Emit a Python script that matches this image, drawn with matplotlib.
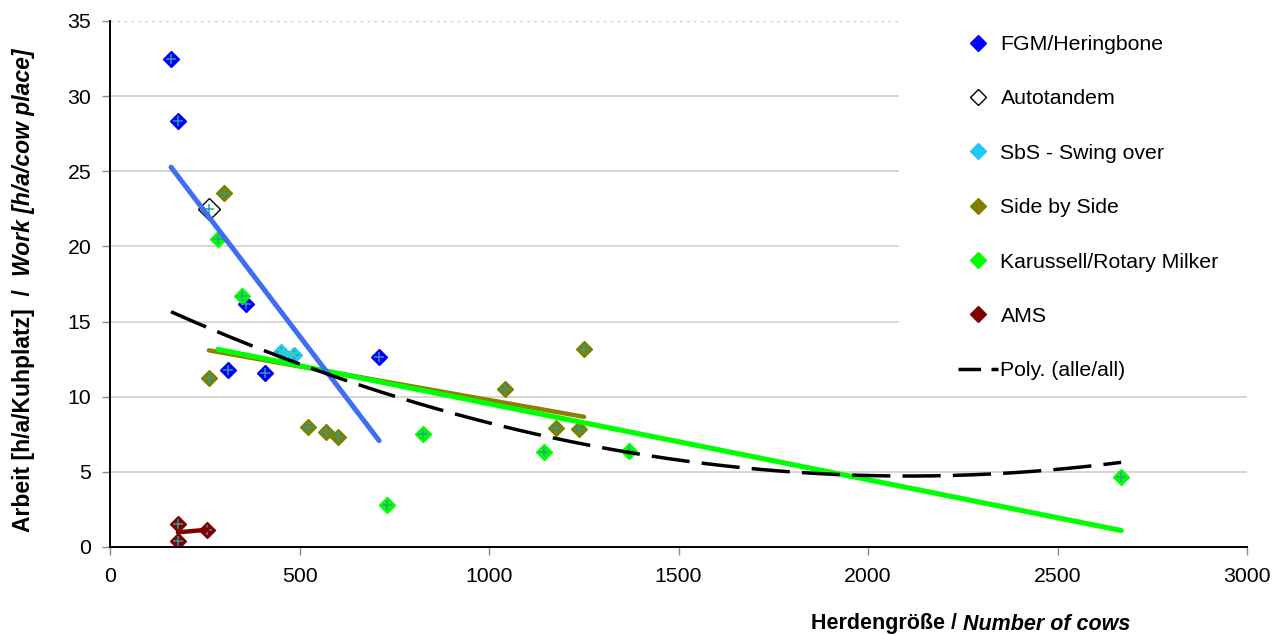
import numpy as np
import matplotlib
matplotlib.use("Agg")
import matplotlib.pyplot as plt
from matplotlib.lines import Line2D
from matplotlib.patches import Rectangle

plt.rcParams['font.family'] = ['Liberation Sans', 'DejaVu Sans']

# ---- data (herd size, work h/a/cow place) ----
fgm_x = [161, 179, 359, 311, 409, 710]
fgm_y = [32.5, 28.35, 16.2, 11.8, 11.6, 12.65]

auto_x = [261]
auto_y = [22.5]

sbs_swing_x = [451, 485]
sbs_swing_y = [13.0, 12.8]

side_x = [301, 261, 522, 570, 601, 1042, 1177, 1237, 1251]
side_y = [23.55, 11.25, 8.0, 7.65, 7.3, 10.5, 7.9, 7.85, 13.15]

rot_x = [285, 348, 731, 826, 1145, 1369, 2668]
rot_y = [20.5, 16.7, 2.8, 7.5, 6.3, 6.4, 4.65]

ams_x = [179, 179, 256]
ams_y = [1.55, 0.4, 1.15]

legend_labels = ["FGM/Heringbone", "Autotandem", "SbS - Swing over",
                 "Side by Side", "Karussell/Rotary Milker", "AMS",
                 "Poly. (alle/all)"]
xticks = [0, 500, 1000, 1500, 2000, 2500, 3000]
yticks = [0, 5, 10, 15, 20, 25, 30, 35]

W, H = 1288, 635
fig = plt.figure(figsize=(W / 100, H / 100), dpi=100)
ax = fig.add_axes([110 / W, 88 / H, 1137 / W, 526 / H])
ax.set_xlim(0, 3000)
ax.set_ylim(0, 35)
ax.set_xticks(xticks)
ax.set_yticks(yticks)
ax.tick_params(axis='both', labelsize=15.3, color='#8c8c8c', length=5.5, width=1)
ax.tick_params(axis='x', pad=9)
ax.tick_params(axis='y', pad=8)
for s in ['top', 'right']:
    ax.spines[s].set_visible(False)
for s in ['left', 'bottom']:
    ax.spines[s].set_linewidth(1.4)
    ax.spines[s].set_color('black')
    ax.spines[s].set_zorder(6)

# gridlines
for v in yticks[1:]:
    if v == yticks[-1]:
        ax.axhline(v, color='#cfcfcf', lw=1, ls=(0, (2, 3)), zorder=0.5)
    else:
        ax.axhline(v, color='#cfcfcf', lw=1.2, zorder=0.5)

# white legend area covering gridlines
ax.add_patch(Rectangle((899 / W, 1 - 386 / H), (1248 - 899) / W, 380 / H,
                       transform=fig.transFigure, facecolor='white',
                       edgecolor='none', zorder=0.8, clip_on=False))

plus_c = '#2f9c9c'
ms = 7.8

def series(x, y, face, edge, size=ms):
    ax.plot(x, y, ls='none', marker='D', ms=size, mfc=face, mec=edge, mew=1, zorder=3)
    ax.plot(x, y, ls='none', marker='+', ms=6.5, mec=plus_c, mew=1.1, zorder=3.1)

series(fgm_x, fgm_y, '#0000ff', '#0000ff')
series(auto_x, auto_y, 'white', 'black', size=11)
series(sbs_swing_x, sbs_swing_y, '#1fc8f0', '#1fc8f0')
series(side_x, side_y, '#808000', '#808000')
series(rot_x, rot_y, '#00ff00', '#00ff00')
series(ams_x, ams_y, '#800000', '#800000')

def trend(x, y, color, lw, z):
    x = np.asarray(x, float); y = np.asarray(y, float)
    p = np.polyfit(x, y, 1)
    xs = np.array([x.min(), x.max()])
    ax.plot(xs, np.polyval(p, xs), color=color, lw=lw, solid_capstyle='round', zorder=z)

trend(fgm_x, fgm_y, '#3f6ef2', 3.6, 4.2)
trend(sbs_swing_x, sbs_swing_y, '#33cccc', 3.6, 4.0)
trend(side_x, side_y, '#8f7f00', 3.2, 4.0)
trend(rot_x, rot_y, '#00ff00', 3.7, 4.1)
trend(ams_x, ams_y, '#800000', 3.2, 4.0)

all_x = np.array(fgm_x + auto_x + sbs_swing_x + side_x + rot_x + ams_x, float)
all_y = np.array(fgm_y + auto_y + sbs_swing_y + side_y + rot_y + ams_y, float)
pc = np.polyfit(all_x, all_y, 2)
xs = np.linspace(all_x.min(), all_x.max(), 300)
ax.plot(xs, np.polyval(pc, xs), color='black', lw=2.5, ls=(0, (11, 3.5)), zorder=4.5)

# legend
handles = [
    Line2D([], [], ls='none', marker='D', ms=ms, mfc='#0000ff', mec='#0000ff'),
    Line2D([], [], ls='none', marker='D', ms=ms, mfc='white', mec='black', mew=1),
    Line2D([], [], ls='none', marker='D', ms=ms, mfc='#1fc8f0', mec='#1fc8f0'),
    Line2D([], [], ls='none', marker='D', ms=ms, mfc='#808000', mec='#808000'),
    Line2D([], [], ls='none', marker='D', ms=ms, mfc='#00ff00', mec='#00ff00'),
    Line2D([], [], ls='none', marker='D', ms=ms, mfc='#800000', mec='#800000'),
    Line2D([], [], color='black', lw=2.5, ls=(0, (6.5, 3))),
]
leg = fig.legend(handles, legend_labels, loc='upper left',
                 bbox_to_anchor=(958 / W, 1 - 35 / H), frameon=False,
                 fontsize=15.3, handlelength=1.86, handletextpad=0.14,
                 labelspacing=1.665, borderpad=0, borderaxespad=0)

# axis labels (bold + bold italic parts)
fs_lab = 15.5
r = fig.canvas.get_renderer()
# x label
xt2 = fig.text(1130 / W, 1 - 624 / H, "Number of cows", ha='right', va='center',
               fontsize=fs_lab, weight='bold', style='italic')
bb2 = xt2.get_window_extent(r)
xt1 = fig.text(bb2.x0 / W, 1 - 624 / H, "Herdengröße / ", ha='right', va='center',
               fontsize=fs_lab, weight='bold')
# y label
yc = 290
yt1 = fig.text(24 / W, 0.5, "Arbeit [h/a/Kuhplatz]  /  ", rotation=90, ha='center',
               va='bottom', fontsize=16.5, weight='bold')
yt2 = fig.text(24 / W, 0.5, "Work [h/a/cow place]", rotation=90, ha='center',
               va='bottom', fontsize=16.5, weight='bold', style='italic')
h1 = yt1.get_window_extent(r).height
h2 = yt2.get_window_extent(r).height
ybot = (H - yc) - (h1 + h2) / 2
yt1.set_y(ybot / H)
yt2.set_y((ybot + h1) / H)

fig.savefig('out.png', dpi=100)
